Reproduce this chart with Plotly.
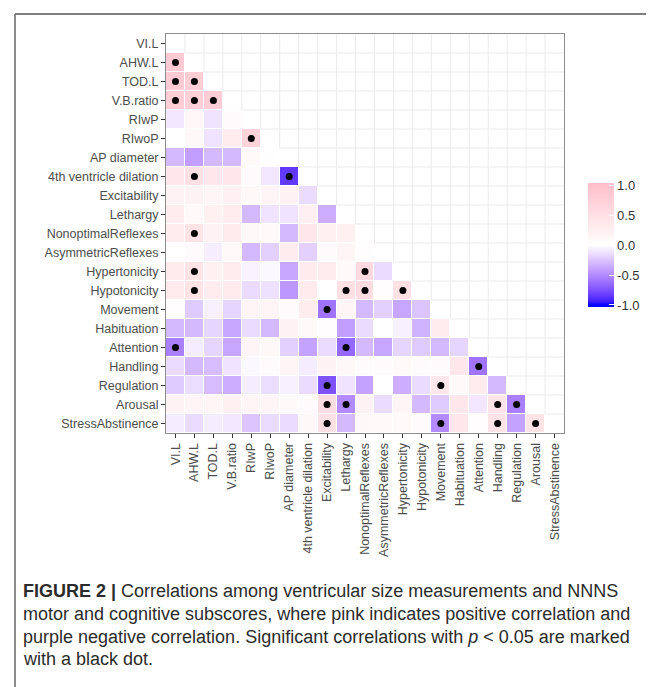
import numpy as np
import plotly.graph_objects as go

# ---------------- data ----------------
variables = ["VI.L", "AHW.L", "TOD.L", "V.B.ratio", "RIwP", "RIwoP", "AP diameter",
             "4th ventricle dilation", "Excitability", "Lethargy", "NonoptimalReflexes",
             "AsymmetricReflexes", "Hypertonicity", "Hypotonicity", "Movement",
             "Habituation", "Attention", "Handling", "Regulation", "Arousal",
             "StressAbstinence"]

# lower triangle: row i holds correlations of variables[i] with variables[0..i-1]
corr_rows = [
    [],
    [0.85],
    [0.85, 0.80],
    [0.80, 0.75, 0.80],
    [-0.10, 0.15, -0.12, 0.08],
    [0.00, 0.12, -0.12, 0.30, 0.70],
    [-0.30, -0.42, -0.30, -0.30, 0.10, 0.02],
    [0.38, 0.50, 0.38, 0.38, 0.06, -0.10, -0.85],
    [0.20, 0.20, 0.16, 0.22, 0.12, 0.16, 0.20, -0.15],
    [0.30, 0.10, 0.24, 0.30, -0.30, -0.12, -0.12, 0.25, -0.35],
    [0.30, 0.45, 0.20, 0.34, 0.12, 0.10, -0.30, 0.38, 0.24, 0.24],
    [0.00, 0.06, -0.07, 0.10, -0.30, -0.20, 0.30, -0.20, 0.06, 0.16, 0.04],
    [0.34, 0.45, 0.24, 0.30, -0.05, -0.03, -0.38, 0.34, 0.30, 0.10, 0.60, -0.15],
    [0.34, 0.45, 0.30, 0.34, -0.15, -0.13, -0.45, 0.34, 0.00, 0.50, 0.55, 0.04, 0.50],
    [0.04, -0.22, -0.06, -0.18, 0.16, 0.16, 0.06, 0.30, -0.60, 0.16, -0.30, -0.20, -0.38, -0.25],
    [-0.30, -0.30, -0.18, -0.38, -0.15, -0.30, 0.20, 0.10, 0.04, -0.42, -0.15, 0.00, -0.06, -0.33, 0.30],
    [-0.55, -0.08, -0.18, -0.38, 0.16, 0.12, -0.20, -0.40, -0.15, -0.65, -0.30, -0.38, -0.18, -0.22, -0.30, -0.18],
    [-0.15, -0.30, -0.28, -0.12, -0.03, 0.08, 0.16, -0.08, 0.20, 0.12, 0.06, 0.06, 0.10, 0.06, 0.08, 0.38, -0.60],
    [-0.22, -0.14, -0.28, -0.35, -0.08, -0.14, -0.06, -0.15, -0.75, -0.12, -0.40, 0.00, -0.35, -0.15, 0.38, 0.10, 0.30, -0.30],
    [0.20, 0.16, 0.16, 0.24, 0.16, 0.16, 0.10, 0.08, 0.55, -0.50, 0.20, -0.15, 0.16, -0.30, -0.22, 0.38, -0.10, 0.45, -0.55],
    [-0.08, -0.15, -0.08, -0.10, -0.25, -0.15, -0.15, 0.12, 0.50, -0.30, 0.12, 0.10, 0.10, 0.06, -0.50, 0.38, 0.04, 0.45, -0.40, 0.45],
]

# significant pairs (p < 0.05): (row variable, column variable)
sig_pairs = [
    ("AHW.L", "VI.L"), ("TOD.L", "VI.L"), ("TOD.L", "AHW.L"),
    ("V.B.ratio", "VI.L"), ("V.B.ratio", "AHW.L"), ("V.B.ratio", "TOD.L"),
    ("RIwoP", "RIwP"), ("4th ventricle dilation", "AHW.L"),
    ("4th ventricle dilation", "AP diameter"), ("NonoptimalReflexes", "AHW.L"),
    ("Hypertonicity", "AHW.L"), ("Hypertonicity", "NonoptimalReflexes"),
    ("Hypotonicity", "AHW.L"), ("Hypotonicity", "Lethargy"),
    ("Hypotonicity", "NonoptimalReflexes"), ("Hypotonicity", "Hypertonicity"),
    ("Movement", "Excitability"), ("Attention", "VI.L"), ("Attention", "Lethargy"),
    ("Handling", "Attention"), ("Regulation", "Excitability"), ("Regulation", "Movement"),
    ("Arousal", "Excitability"), ("Arousal", "Lethargy"), ("Arousal", "Handling"),
    ("Arousal", "Regulation"), ("StressAbstinence", "Excitability"),
    ("StressAbstinence", "Movement"), ("StressAbstinence", "Handling"),
    ("StressAbstinence", "Arousal"),
]

colorbar_ticks = [-1.0, -0.5, 0.0, 0.5, 1.0]
colorbar_labels = ["-1.0", "-0.5", "0.0", "0.5", "1.0"]

caption_lines = [
    "<b>FIGURE 2 |</b> Correlations among ventricular size measurements and NNNS",
    "motor and cognitive subscores, where pink indicates positive correlation and",
    "purple negative correlation. Significant correlations with <i>p</i> &lt; 0.05 are marked",
    "with a black dot.",
]

# ---------------- colour scale (blue - white - pink, CIELAB interpolation) ----------------
def _lin(c):
    c = c / 255.0
    return np.where(c <= 0.04045, c / 12.92, ((c + 0.055) / 1.055) ** 2.4)

M = np.array([[0.4124, 0.3576, 0.1805], [0.2126, 0.7152, 0.0722], [0.0193, 0.1192, 0.9505]])
WP = np.array([0.95047, 1.0, 1.08883])

def rgb2lab(rgb):
    xyz = M @ _lin(np.array(rgb, float)) / WP
    d = 6 / 29
    f = np.where(xyz > d ** 3, np.cbrt(xyz), xyz / (3 * d * d) + 4 / 29)
    return np.array([116 * f[1] - 16, 500 * (f[0] - f[1]), 200 * (f[1] - f[2])])

def lab2rgb(lab):
    L, a, b = lab
    fy = (L + 16) / 116
    fx = fy + a / 500
    fz = fy - b / 200
    d = 6 / 29
    f = np.array([fx, fy, fz])
    xyz = np.where(f > d, f ** 3, 3 * d * d * (f - 4 / 29)) * WP
    lin = np.linalg.solve(M, xyz)
    lin = np.clip(lin, 0, 1)
    c = np.where(lin <= 0.0031308, 12.92 * lin, 1.055 * lin ** (1 / 2.4) - 0.055)
    c = np.clip(np.round(c * 255), 0, 255).astype(int)
    return "rgb(%d,%d,%d)" % tuple(c)

LOW, MID, HIGH = rgb2lab((0, 0, 255)), rgb2lab((255, 255, 255)), rgb2lab((255, 192, 203))
EXT = 1.035  # colour bar slightly longer than the [-1, 1] limits (as in ggplot)

def colour_at(v):
    if v < 0:
        return lab2rgb(MID + (LOW - MID) * (-v))
    return lab2rgb(MID + (HIGH - MID) * v)

colorscale = [[0.0, colour_at(-1.0)]]
for v in np.linspace(-1, 1, 41):
    colorscale.append([(v + EXT) / (2 * EXT), colour_at(v)])
colorscale.append([1.0, colour_at(1.0)])

# ---------------- matrix ----------------
n = len(variables)
z = [[(corr_rows[i][j] if j < i else None) for j in range(n)] for i in range(n)]

fig = go.Figure()
fig.add_trace(go.Heatmap(
    x=variables, y=variables, z=z,
    colorscale=colorscale, zmin=-EXT, zmax=EXT,
    xgap=1, ygap=1, hoverongaps=False,
    colorbar=dict(
        tickvals=colorbar_ticks, ticktext=colorbar_labels,
        ticks="inside", ticklen=5, tickwidth=1, tickcolor="white",
        outlinewidth=0, thickness=26,
        lenmode="pixels", len=124,
        x=(580 - 158) / 398, xanchor="left", xpad=0,
        y=0.471, yanchor="middle", ypad=0,
        tickfont=dict(size=13, color="#333333", family="Liberation Sans, Arial, sans-serif"),
    ),
))

fig.add_trace(go.Scatter(
    x=[c for r, c in sig_pairs], y=[r for r, c in sig_pairs],
    mode="markers", marker=dict(color="black", size=7),
    showlegend=False, hoverinfo="skip",
))

# light grid lines in the empty upper triangle
shapes = []
grid_col = "#ebebeb"
for k in range(1, n):
    shapes.append(dict(type="line", xref="x", yref="y", x0=k - 0.5, x1=k - 0.5,
                       y0=-0.5, y1=k - 0.5, line=dict(color=grid_col, width=1), layer="below"))
    shapes.append(dict(type="line", xref="x", yref="y", x0=k - 0.5, x1=n - 0.5,
                       y0=k - 0.5, y1=k - 0.5, line=dict(color=grid_col, width=1), layer="below"))

# figure frame (top and left rules)
PL, PR, PT, PB = 158, 556, 26, 425
def px2x(px):
    return (px - PL) / (PR - PL)
def py2y(py):
    return (PB - py) / (PB - PT)

shapes.append(dict(type="line", xref="paper", yref="paper", x0=px2x(7), x1=px2x(660),
                   y0=py2y(6), y1=py2y(6), line=dict(color="#555555", width=1.5)))
shapes.append(dict(type="line", xref="paper", yref="paper", x0=px2x(7), x1=px2x(7),
                   y0=py2y(6), y1=py2y(700), line=dict(color="#666666", width=1.5)))

annotations = []
for i, (txt, py) in enumerate(zip(caption_lines, [583, 606, 629, 651])):
    annotations.append(dict(text=txt, xref="paper", yref="paper", x=px2x(13), y=py2y(py),
                            xanchor="left", yanchor="middle", showarrow=False,
                            font=dict(size=18, color="#2b2b2b",
                                      family="Liberation Sans, Arial, sans-serif")))

axis_common = dict(
    type="category", showgrid=False, zeroline=False,
    showline=True, mirror=True, linecolor="#8c8c8c", linewidth=1,
    ticks="outside", ticklen=4, tickwidth=1, tickcolor="#333333",
    tickfont=dict(size=12.5, color="#4d4d4d", family="Liberation Sans, Arial, sans-serif"),
)

fig.update_layout(
    width=654, height=687, autosize=False,
    margin=dict(l=PL, r=654 - PR, t=PT, b=687 - PB),
    paper_bgcolor="white", plot_bgcolor="white",
    xaxis=dict(axis_common, range=[-0.5, n - 0.5], tickangle=-90,
               categoryorder="array", categoryarray=variables),
    yaxis=dict(axis_common, range=[n - 0.5, -0.5],
               categoryorder="array", categoryarray=variables),
    shapes=shapes, annotations=annotations,
    showlegend=False,
)

fig.write_html("out.html")
